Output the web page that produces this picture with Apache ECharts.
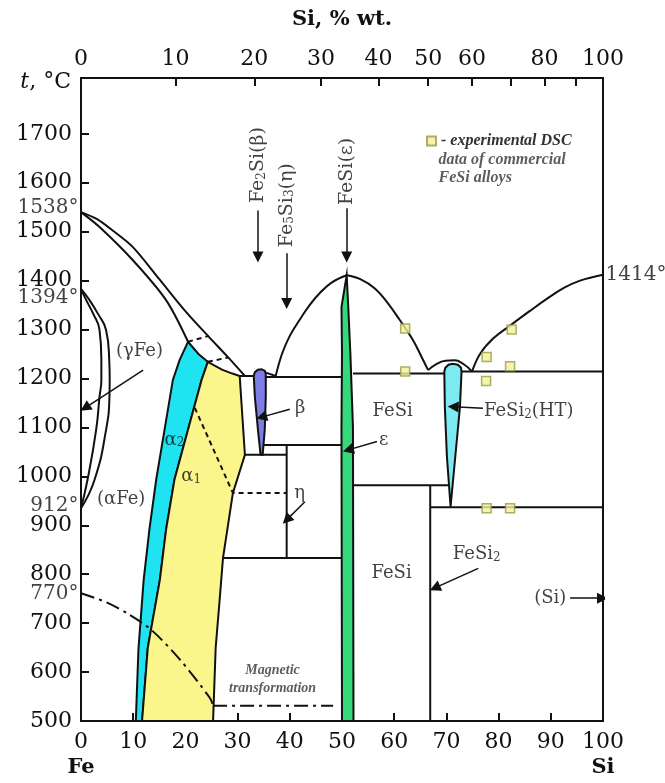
<!DOCTYPE html>
<html>
<head>
<meta charset="utf-8">
<title>Fe-Si phase diagram</title>
<script src="https://cdn.jsdelivr.net/npm/echarts@6/dist/echarts.min.js"></script>
<style>
  html, body { margin: 0; padding: 0; background: #fff; }
  #chart { width: 665px; height: 783px; }
</style>
</head>
<body>
<div id="chart"></div>
<script>
// ---- axes -------------------------------------------------------------
// top axis: Si wt.% labels, drawn at the matching at.% position
const wtLabels = [0, 10, 20, 30, 40, 50, 60, 70, 80, 90, 100];
const wtAtPos = [0, 18.1, 33.2, 46.0, 57.0, 66.5, 74.9, 82.3, 88.8, 94.7, 100];
const wtShown = [0, 10, 20, 30, 40, 50, 60, 80, 100];
const tempTicks = [500, 600, 700, 800, 900, 1000, 1100, 1200, 1300, 1400, 1500, 1600, 1700];

// ---- phase boundaries, [Si at.%, t °C] --------------------------------
const liquidusFe = [[0, 1540], [3, 1526], [6, 1503], [9.9, 1469], [15, 1403], [20.2, 1335], [24.5, 1285], [28.2, 1243], [31.4, 1205]];
const solidusFe = [[0, 1540], [3.5, 1510], [9.9, 1442], [16.3, 1360], [20.5, 1275]];
const gammaInner = [[0, 1383], [0.9, 1362], [2.3, 1333], [3.55, 1299], [3.9, 1240], [3.9, 1197], [3.55, 1163], [2.9, 1095], [1.25, 993], [0, 935]];
const gammaOuter = [[0, 1383], [1.5, 1362], [3.2, 1333], [4.8, 1299], [5.4, 1240], [5.5, 1197], [5.45, 1163], [4.8, 1095], [2.6, 993], [0, 935]];
const alpha2Area = [[20.5, 1275], [22.5, 1250], [24.3, 1234], [23.1, 1197], [20.5, 1095], [17.9, 993], [16.3, 891], [15.1, 788], [12.8, 650], [11.7, 500],
  [10.5, 500], [11.0, 646], [12.0, 788], [13.1, 891], [14.4, 993], [16.0, 1095], [17.6, 1197], [18.9, 1238]];
const alpha1Area = [[24.3, 1234], [27, 1218], [29, 1210], [30.4, 1205], [31.4, 1044], [29.1, 966], [27.2, 833], [26.5, 740], [25.8, 650], [25.3, 500],
  [11.7, 500], [12.8, 650], [15.1, 788], [16.3, 891], [17.9, 993], [20.5, 1095], [23.1, 1197]];
const betaArea = [[33.1, 1205], [33.3, 1213], [33.9, 1218], [34.6, 1219], [35.2, 1216], [35.4, 1210], [35.4, 1163], [35.2, 1095], [34.8, 1044],
  [34.4, 1044], [33.9, 1095], [33.3, 1163]];
const epsArea = [[50.9, 1411], [51.2, 1346], [51.6, 1252], [52.1, 1100], [52.2, 500], [50.0, 500], [49.9, 1100], [50.0, 1252], [49.9, 1346]];
const fesi2HtArea = [[69.6, 1214], [69.8, 1222], [70.4, 1228], [71.2, 1230], [72.2, 1228], [72.8, 1222], [72.9, 1214], [72.6, 1142], [71.7, 1040],
  [70.8, 938], [70.1, 1040], [69.7, 1142]];
const domeLeft = [[37.3, 1205], [38.5, 1250], [40, 1287], [41.9, 1320], [43.8, 1350], [45.8, 1375], [48, 1396], [50.9, 1411]];
const domeRight = [[50.9, 1411], [53.5, 1403], [56.3, 1384], [58.7, 1355], [61.1, 1319], [63.5, 1280], [65.2, 1245], [66.5, 1217]];
const fesi2Dome = [[66.5, 1217], [68, 1229], [69.8, 1236], [71.5, 1237], [73.2, 1230], [74.9, 1214]];
const liquidusSi = [[74.9, 1214], [76.5, 1251], [79, 1282], [82.2, 1308], [86, 1338], [89.3, 1363], [92.5, 1385], [95.6, 1400], [100, 1412]];
const straightLines = [
  [[30.4, 1205], [33.1, 1205]],
  [[35.4, 1212], [37.3, 1205]],
  [[35.4, 1203], [49.9, 1203]],
  [[34.9, 1064], [49.9, 1064]],
  [[31.4, 1044], [39.4, 1044]],
  [[39.4, 1064], [39.4, 833]],
  [[27.2, 833], [49.9, 833]],
  [[52.1, 1210], [69.6, 1210]],
  [[72.9, 1214], [100, 1214]],
  [[52.2, 982], [70.3, 982]],
  [[66.9, 982], [66.9, 500]],
  [[66.9, 937], [100, 937]]
];
const dashedLines = [
  [[21.8, 1140], [29.1, 966], [39.4, 966]],
  [[20.5, 1275], [24.5, 1287]],
  [[24.3, 1234], [28.2, 1243]]
];
const curieLine = [[0, 761], [5, 742], [9.3, 717], [13.5, 686], [19, 625], [24.7, 547], [25.3, 531]];
const curieFlat = [[25.3, 531], [48.3, 531]];

// experimental DSC points of commercial FeSi alloys
const dscSi = [62.1, 62.1, 77.7, 82.5, 82.2, 77.6, 77.7, 82.2];
const dscT = [1302, 1214, 1244, 1300, 1225, 1195, 935, 935];

// ---- annotations: [Si at.%, t °C, text] -------------------------------
const centerNotes = [
  [11.2, 1255, '(γFe)'], [7.7, 952, '(αFe)'], [59.7, 1132, 'FeSi'], [59.5, 802, 'FeSi'],
  [42.0, 1139, 'β'], [41.9, 966, 'η'], [58.0, 1074, 'ε'], [75.8, 840, 'FeSi{s|2}'], [89.9, 751, '(Si)'],
  [17.9, 1074, 'α{s|2}'], [21.1, 999, 'α{s|1}']
];
const startNotes = [[77.1, 1132, 'FeSi{s|2}(HT)']];
const upNotes = [[33.9, 1636, 'Fe{s|2}Si(β)'], [39.4, 1554, 'Fe{s|5}Si{s|3}(η)'], [50.9, 1623, 'FeSi(ε)']];
const leftEdgeNotes = [[0, 1548, '1538°'], [0, 1364, '1394°'], [0, 940, '912°'], [0, 760, '770°']];
const rightEdgeNotes = [[100, 1412, '1414°']];
const magNotes = [[36.7, 603, 'Magnetic'], [36.7, 566, 'transformation']];
const legendMore = [[68.4, 1646, 'data of commercial'], [68.4, 1609, 'FeSi alloys']];
const arrows = [
  [[11.9, 1217], [0.8, 1140]],
  [[40.0, 1137], [34.6, 1121]],
  [[42.9, 948], [39.4, 911]],
  [[56.7, 1071], [51.2, 1054]],
  [[77.0, 1139], [71.3, 1142]],
  [[76.1, 812], [67.8, 772]],
  [[93.7, 751], [99.9, 751]],
  [[33.9, 1543], [33.9, 1448]],
  [[39.4, 1456], [39.4, 1353]],
  [[50.9, 1548], [50.9, 1448]]
];

const SERIF = 'DejaVu Serif';
const INK = '#111';
const RICH = {
  s: { fontFamily: SERIF, fontSize: 12, lineHeight: 12, verticalAlign: 'bottom', color: INK }
};
const LEGEND_FONT = { fontFamily: 'Liberation Serif', fontStyle: 'italic', fontWeight: 'bold', fontSize: 16, color: '#333' };

const chart = echarts.init(document.getElementById('chart'));

function line(data, smooth, type) {
  return {
    type: 'line', data, smooth: smooth || false, symbol: 'none', silent: true, animation: false, z: 3,
    lineStyle: { color: INK, width: 2, type: type || 'solid' }
  };
}

function region(poly, color) {
  return {
    type: 'custom', silent: true, animation: false, z: 2, clip: true,
    data: [poly[0]],
    renderItem: (params, api) => ({
      type: 'polygon',
      shape: { points: poly.map(p => api.coord(p)) },
      style: { fill: color, stroke: INK, lineWidth: 2 }
    })
  };
}

function notes(items, label) {
  return {
    type: 'scatter', silent: true, animation: false, z: 6, symbolSize: 1,
    itemStyle: { color: 'rgba(0,0,0,0)' },
    data: items.map(n => ({ value: [n[0], n[1]], label: { formatter: n[2] } })),
    label: Object.assign({
      show: true, position: 'inside', color: INK, fontFamily: SERIF, fontSize: 18, rich: RICH
    }, label)
  };
}

const series = [
  region(alpha2Area, '#1fe3f0'),
  region(alpha1Area, '#fbf68c'),
  region(betaArea, '#7d7de6'),
  region(epsArea, '#35d87a'),
  region(fesi2HtArea, '#7ceaf0'),
  line(liquidusFe, 0.3),
  line(solidusFe, 0.3),
  line(gammaInner, 0.5),
  line(gammaOuter, 0.5),
  line(domeLeft, 0.4),
  line(domeRight, 0.4),
  line(fesi2Dome, 0.5),
  line(liquidusSi, 0.4),
  line(curieLine, 0.3, [14, 5, 3, 5]),
  line(curieFlat, false, [14, 5, 3, 5])
];
straightLines.forEach(s => series.push(line(s)));
dashedLines.forEach(s => series.push(line(s, false, [5, 4])));

series.push({
  type: 'lines', coordinateSystem: 'cartesian2d', silent: true, animation: false, z: 5,
  symbol: ['none', 'triangle'], symbolSize: [0, 11],
  lineStyle: { color: INK, width: 1.5, opacity: 1 },
  data: arrows.map(a => ({ coords: a }))
});

series.push({
  name: 'DSC', type: 'scatter', symbol: 'rect', symbolSize: 9, z: 7, animation: false,
  itemStyle: { color: '#f1f19a', borderColor: '#9a9a4a', borderWidth: 1.5 },
  data: dscSi.map((x, i) => [x, dscT[i]])
});

series.push(notes(centerNotes, {}));
series.push(notes(startNotes, { position: 'right', distance: 0 }));
series.push(notes(upNotes, { rotate: 90, fontSize: 19 }));
series.push(notes(leftEdgeNotes, { position: 'left', distance: 2, fontSize: 20 }));
series.push(notes(rightEdgeNotes, { position: 'right', distance: 2, fontSize: 20 }));
series.push(notes(magNotes, Object.assign({}, LEGEND_FONT, { fontSize: 14 })));
series.push(notes(legendMore, Object.assign({ position: 'right', distance: 0 }, LEGEND_FONT)));

const option = {
  animation: false,
  backgroundColor: '#fff',
  grid: {
    left: 81, right: 62, top: 78, bottom: 62, outerBoundsMode: 'none',
    show: true, borderColor: INK, borderWidth: 2
  },
  legend: {
    left: 426, top: 133, padding: 0, itemWidth: 9, itemHeight: 9, selectedMode: false,
    data: [{ name: 'DSC', icon: 'rect' }],
    formatter: () => '- experimental DSC',
    textStyle: LEGEND_FONT
  },
  xAxis: [
    {
      type: 'value', position: 'bottom', min: 0, max: 100, interval: 10,
      name: 'Si, % at.', nameLocation: 'middle', nameGap: 37,
      nameTextStyle: { fontFamily: SERIF, fontWeight: 'bold', fontSize: 21, color: INK, padding: [0, 0, 0, 28] },
      axisLine: { lineStyle: { color: INK, width: 2 } },
      axisTick: { inside: true, length: 8, lineStyle: { color: INK, width: 2 } },
      splitLine: { show: false },
      axisLabel: {
        margin: 9,
        formatter: v => v === 0 ? '{n|0}\n{e|Fe}' : v === 100 ? '{n|100}\n{e|Si}' : '{n|' + v + '}',
        rich: {
          n: { fontFamily: SERIF, fontSize: 22, color: INK, lineHeight: 25 },
          e: { fontFamily: SERIF, fontSize: 21, fontWeight: 'bold', color: INK, lineHeight: 25 }
        }
      }
    },
    {
      type: 'value', position: 'top', min: 0, max: 100,
      name: 'Si, % wt.', nameLocation: 'middle', nameGap: 48,
      nameTextStyle: { fontFamily: SERIF, fontWeight: 'bold', fontSize: 21, color: INK },
      axisLine: { lineStyle: { color: INK, width: 2 } },
      axisTick: { inside: true, length: 8, lineStyle: { color: INK, width: 2 }, customValues: wtAtPos.slice(1, 10) },
      splitLine: { show: false },
      axisLabel: {
        margin: 8, fontFamily: SERIF, fontSize: 22, color: INK,
        customValues: wtShown.map(w => wtAtPos[wtLabels.indexOf(w)]),
        formatter: v => String(wtLabels[wtAtPos.findIndex(p => Math.abs(p - v) < 0.05)])
      }
    }
  ],
  yAxis: {
    type: 'value', min: 500, max: 1814,
    name: '{i|t}{n|, °C}', nameLocation: 'end', nameGap: -4,
    nameTextStyle: {
      align: 'right', verticalAlign: 'middle', padding: [0, 10, 0, 0],
      rich: {
        i: { fontFamily: SERIF, fontStyle: 'italic', fontSize: 22, color: INK },
        n: { fontFamily: SERIF, fontSize: 22, color: INK }
      }
    },
    axisLine: { lineStyle: { color: INK, width: 2 } },
    axisTick: { inside: true, length: 8, lineStyle: { color: INK, width: 2 }, customValues: tempTicks },
    splitLine: { show: false },
    axisLabel: {
      margin: 9, fontFamily: SERIF, fontSize: 22, color: INK, customValues: tempTicks,
      formatter: v => String(v)
    }
  },
  series
};

chart.setOption(option);
</script>
</body>
</html>
